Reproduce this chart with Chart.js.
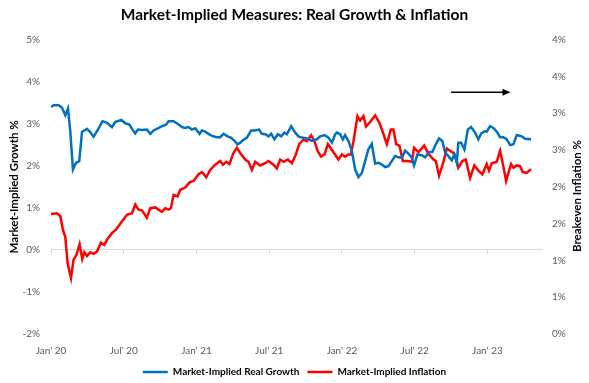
<!DOCTYPE html>
<html>
<head>
<meta charset="utf-8">
<script src="https://cdn.jsdelivr.net/npm/chart.js@4"></script>
<style>
  html, body { margin: 0; padding: 0; background: #fff; }
  #wrap { width: 589px; height: 383px; }
</style>
</head>
<body>
<div id="wrap"><canvas id="chart"></canvas></div>
<script>
// x values are months since Jan 2020
const growthMonths = [
  0, 0.21, 0.63, 0.91, 1.18, 1.40, 1.59, 1.81, 2.06, 2.33,
  2.56, 2.77, 2.97, 3.18, 3.51, 3.87, 4.25, 4.62, 5.03, 5.30,
  5.80, 6.13, 6.46, 6.73, 6.95, 7.17, 7.50, 7.91, 8.19, 8.46,
  8.74, 9.15, 9.51, 9.70, 10.11, 10.44, 10.80, 11.07, 11.34, 11.62,
  11.90, 12.25, 12.45, 12.72, 12.99, 13.36, 13.69, 13.96, 14.23, 14.56,
  14.84, 15.11, 15.38, 15.61, 15.80, 16.16, 16.51, 16.78, 17.17, 17.39,
  17.67, 17.94, 18.16, 18.43, 18.71, 18.99, 19.26, 19.46, 19.81, 20.14,
  20.41, 20.69, 21.10, 21.52, 21.93, 22.20, 22.56, 22.89, 23.17, 23.44,
  23.58, 23.85, 24.07, 24.26, 24.53, 24.81, 25.09, 25.36, 25.64, 25.91,
  26.18, 26.46, 26.74, 27.01, 27.29, 27.56, 27.83, 28.11, 28.38, 28.66,
  28.94, 29.21, 29.48, 29.76, 29.95, 30.22, 30.59, 30.86, 31.19, 31.46,
  31.74, 32.01, 32.28, 32.51, 32.78, 33.06, 33.27, 33.47, 33.60, 33.83,
  34.10, 34.38, 34.65, 34.98, 35.25, 35.47, 35.75, 35.94, 36.22, 36.49,
  36.77, 37.04, 37.31, 37.59, 37.87, 38.14, 38.42, 38.83, 39.10, 39.60
];
const growthValues = [
  3.40, 3.44, 3.44, 3.38, 3.20, 3.36, 2.82, 1.91, 2.07, 2.11,
  2.81, 2.84, 2.88, 2.82, 2.69, 2.86, 3.06, 3.02, 2.92, 3.04,
  3.09, 3.01, 2.98, 2.86, 2.77, 2.86, 2.85, 2.86, 2.76, 2.84,
  2.88, 2.94, 2.98, 3.06, 3.06, 3.00, 2.92, 2.90, 2.92, 2.86,
  2.89, 2.76, 2.84, 2.81, 2.76, 2.70, 2.68, 2.68, 2.76, 2.70,
  2.67, 2.60, 2.51, 2.55, 2.60, 2.67, 2.84, 2.84, 2.86, 2.76,
  2.75, 2.70, 2.76, 2.63, 2.75, 2.70, 2.79, 2.75, 2.94, 2.79,
  2.70, 2.67, 2.65, 2.59, 2.63, 2.70, 2.73, 2.67, 2.55, 2.75,
  2.79, 2.75, 2.63, 2.73, 2.59, 2.36, 1.91, 1.73, 1.83, 2.11,
  2.39, 2.52, 2.05, 2.07, 2.03, 1.97, 1.99, 2.11, 2.23, 2.20,
  2.19, 2.36, 2.29, 2.19, 2.01, 2.27, 2.25, 2.20, 2.33, 2.33,
  2.51, 2.65, 2.59, 2.31, 2.23, 2.13, 2.27, 2.07, 2.55, 2.55,
  2.39, 2.86, 2.92, 2.79, 2.63, 2.76, 2.82, 2.81, 2.94, 2.90,
  2.81, 2.68, 2.68, 2.63, 2.49, 2.51, 2.73, 2.70, 2.64, 2.63
];

const inflationMonths = [
  0, 0.49, 0.77, 0.99, 1.18, 1.37, 1.65, 1.86, 2.09, 2.36,
  2.58, 2.75, 2.97, 3.24, 3.51, 3.79, 4.12, 4.39, 4.62, 5.03,
  5.38, 5.85, 6.27, 6.68, 6.95, 7.22, 7.50, 7.90, 8.19, 8.60,
  8.87, 9.15, 9.42, 9.70, 9.89, 10.11, 10.44, 10.66, 11.07, 11.43,
  11.76, 12.17, 12.45, 12.80, 13.13, 13.54, 13.96, 14.18, 14.45, 14.72,
  15.05, 15.33, 15.61, 16.02, 16.29, 16.57, 16.84, 17.25, 17.67, 17.94,
  18.35, 18.63, 18.90, 19.18, 19.54, 19.87, 20.20, 20.47, 20.82, 21.10,
  21.46, 21.73, 22.01, 22.28, 22.56, 22.84, 23.17, 23.71, 23.99, 24.26,
  24.53, 24.73, 24.95, 25.28, 25.50, 25.77, 25.99, 26.32, 26.74, 27.09,
  27.42, 27.70, 28.03, 28.24, 28.47, 28.74, 29.02, 29.40, 29.76, 29.95,
  30.31, 30.78, 31.13, 31.55, 31.74, 32.01, 32.37, 32.65, 32.92, 33.19,
  33.39, 33.60, 33.93, 34.21, 34.57, 34.92, 35.25, 35.58, 35.94, 36.13,
  36.36, 36.77, 37.04, 37.31, 37.54, 37.95, 38.14, 38.42, 38.69, 38.91,
  39.24, 39.60
];
const inflationValues = [
  1.63, 1.64, 1.60, 1.41, 1.32, 0.96, 0.76, 1.01, 1.07, 1.22,
  1.02, 1.11, 1.06, 1.11, 1.09, 1.12, 1.24, 1.21, 1.28, 1.37,
  1.42, 1.53, 1.62, 1.64, 1.76, 1.69, 1.68, 1.58, 1.71, 1.72,
  1.69, 1.66, 1.71, 1.69, 1.71, 1.89, 1.87, 1.96, 1.99, 2.06,
  2.08, 2.17, 2.20, 2.13, 2.23, 2.30, 2.35, 2.30, 2.34, 2.31,
  2.46, 2.53, 2.46, 2.37, 2.34, 2.23, 2.34, 2.29, 2.32, 2.35,
  2.30, 2.25, 2.37, 2.34, 2.37, 2.32, 2.44, 2.58, 2.64, 2.62,
  2.70, 2.62, 2.48, 2.41, 2.44, 2.58, 2.50, 2.37, 2.44, 2.41,
  2.44, 2.44, 2.62, 2.96, 2.90, 2.96, 2.82, 2.88, 2.97, 2.87,
  2.72, 2.58, 2.78, 2.78, 2.58, 2.56, 2.35, 2.35, 2.34, 2.53,
  2.47, 2.56, 2.45, 2.37, 2.35, 2.15, 2.34, 2.52, 2.49, 2.46,
  2.41, 2.26, 2.35, 2.37, 2.12, 2.29, 2.22, 2.17, 2.31, 2.22,
  2.32, 2.34, 2.49, 2.28, 2.08, 2.31, 2.26, 2.29, 2.28, 2.20,
  2.19, 2.24
];

const xTickMonths = [0, 6, 12, 18, 24, 30, 36];
const xTickLabels = ["Jan' 20", "Jul' 20", "Jan' 21", "Jul' 21", "Jan' 22", "Jul' 22", "Jan' 23"];

// arrow note, in (month, growth %) units
const arrowFrom = [33.0, 3.75];
const arrowTo = [37.9, 3.75];

const FONT = 'Lato, "Open Sans", sans-serif';
const GREY = '#595959';

function toPoints(xs, ys) {
  return xs.map((x, i) => ({ x: x, y: ys[i] }));
}

function setMonthTicks(scale) {
  scale.ticks = xTickMonths.map(v => ({ value: v }));
}

const extras = {
  id: 'extras',
  afterDraw(chart) {
    const ctx = chart.ctx;
    const sx = chart.scales.x, sy = chart.scales.y;
    // arrow
    const x1 = sx.getPixelForValue(arrowFrom[0]);
    const x2 = sx.getPixelForValue(arrowTo[0]);
    const y = sy.getPixelForValue(arrowFrom[1]);
    ctx.save();
    ctx.strokeStyle = '#000';
    ctx.fillStyle = '#000';
    ctx.lineWidth = 1.5;
    ctx.beginPath();
    ctx.moveTo(x1, y);
    ctx.lineTo(x2 - 7, y);
    ctx.stroke();
    ctx.beginPath();
    ctx.moveTo(x2, y);
    ctx.lineTo(x2 - 8, y - 3.5);
    ctx.lineTo(x2 - 8, y + 3.5);
    ctx.closePath();
    ctx.fill();
    // right axis title, reading upwards
    ctx.translate(chart.width - 12, 196);
    ctx.rotate(-Math.PI / 2);
    ctx.font = 'bold 11.5px ' + FONT;
    ctx.textAlign = 'center';
    ctx.textBaseline = 'middle';
    ctx.fillText('Breakeven Inflation %', 0, 0);
    ctx.restore();
  }
};

new Chart(document.getElementById('chart'), {
  type: 'line',
  data: {
    datasets: [
      {
        label: 'Market-Implied Real Growth',
        data: toPoints(growthMonths, growthValues),
        borderColor: '#0070C0',
        backgroundColor: '#0070C0',
        borderWidth: 2.5,
        pointRadius: 0,
        xAxisID: 'x',
        yAxisID: 'y',
      },
      {
        label: 'Market-Implied Inflation',
        data: toPoints(inflationMonths, inflationValues),
        borderColor: '#FF0000',
        backgroundColor: '#FF0000',
        borderWidth: 2.5,
        pointRadius: 0,
        xAxisID: 'x',
        yAxisID: 'y1',
      },
    ],
  },
  options: {
    responsive: true,
    maintainAspectRatio: false,
    animation: false,
    devicePixelRatio: 1,
    layout: { padding: { left: 0, right: 0, top: 0, bottom: -4 } },
    plugins: {
      title: {
        display: true,
        text: 'Market-Implied Measures: Real Growth & Inflation',
        color: '#000',
        font: { family: FONT, size: 15.5, weight: 'bold' },
        padding: { top: 6, bottom: 15 },
      },
      legend: {
        position: 'bottom',
        labels: {
          usePointStyle: true,
          pointStyle: 'line',
          pointStyleWidth: 25,
          color: '#000',
          font: { family: FONT, size: 10, weight: 'bold' },
          padding: 8,
        },
      },
      tooltip: { enabled: false },
    },
    scales: {
      x: {
        type: 'linear',
        axis: 'x',
        position: 'bottom',
        min: 0,
        max: 40.5,
        afterBuildTicks: setMonthTicks,
        afterFit: s => { s.height = 25; },
        grid: { display: false, drawTicks: false },
        border: { display: false },
        ticks: {
          autoSkip: false,
          maxRotation: 0,
          padding: 11,
          color: GREY,
          font: { family: FONT, size: 10 },
          callback: v => xTickLabels[xTickMonths.indexOf(v)],
        },
      },
      xZero: {
        type: 'linear',
        axis: 'x',
        position: { y: 0 },
        min: 0,
        max: 40.5,
        afterBuildTicks: setMonthTicks,
        grid: { display: true, drawOnChartArea: false, drawTicks: true, tickLength: 4, color: '#D9D9D9' },
        border: { display: true, color: '#D9D9D9', width: 1 },
        ticks: { display: false },
      },
      y: {
        position: 'left',
        min: -2,
        max: 5,
        afterFit: s => { s.width = 51; },
        grid: { display: false, drawTicks: false },
        border: { display: false },
        ticks: {
          stepSize: 1,
          padding: 11,
          color: GREY,
          font: { family: FONT, size: 10 },
          callback: v => v + '%',
        },
        title: {
          display: true,
          text: 'Market-Implied Growth %',
          color: '#000',
          font: { family: FONT, size: 11.5, weight: 'bold' },
          padding: { top: 7, bottom: 0 },
        },
      },
      y1: {
        position: 'right',
        min: 0,
        max: 4,
        afterFit: s => { s.width = 47; },
        grid: { display: false, drawTicks: false },
        border: { display: false },
        ticks: {
          stepSize: 0.5,
          padding: 10,
          color: GREY,
          font: { family: FONT, size: 10 },
          callback: v => Math.round(v) + '%',
        },
      },
    },
  },
  plugins: [extras],
});
</script>
</body>
</html>
